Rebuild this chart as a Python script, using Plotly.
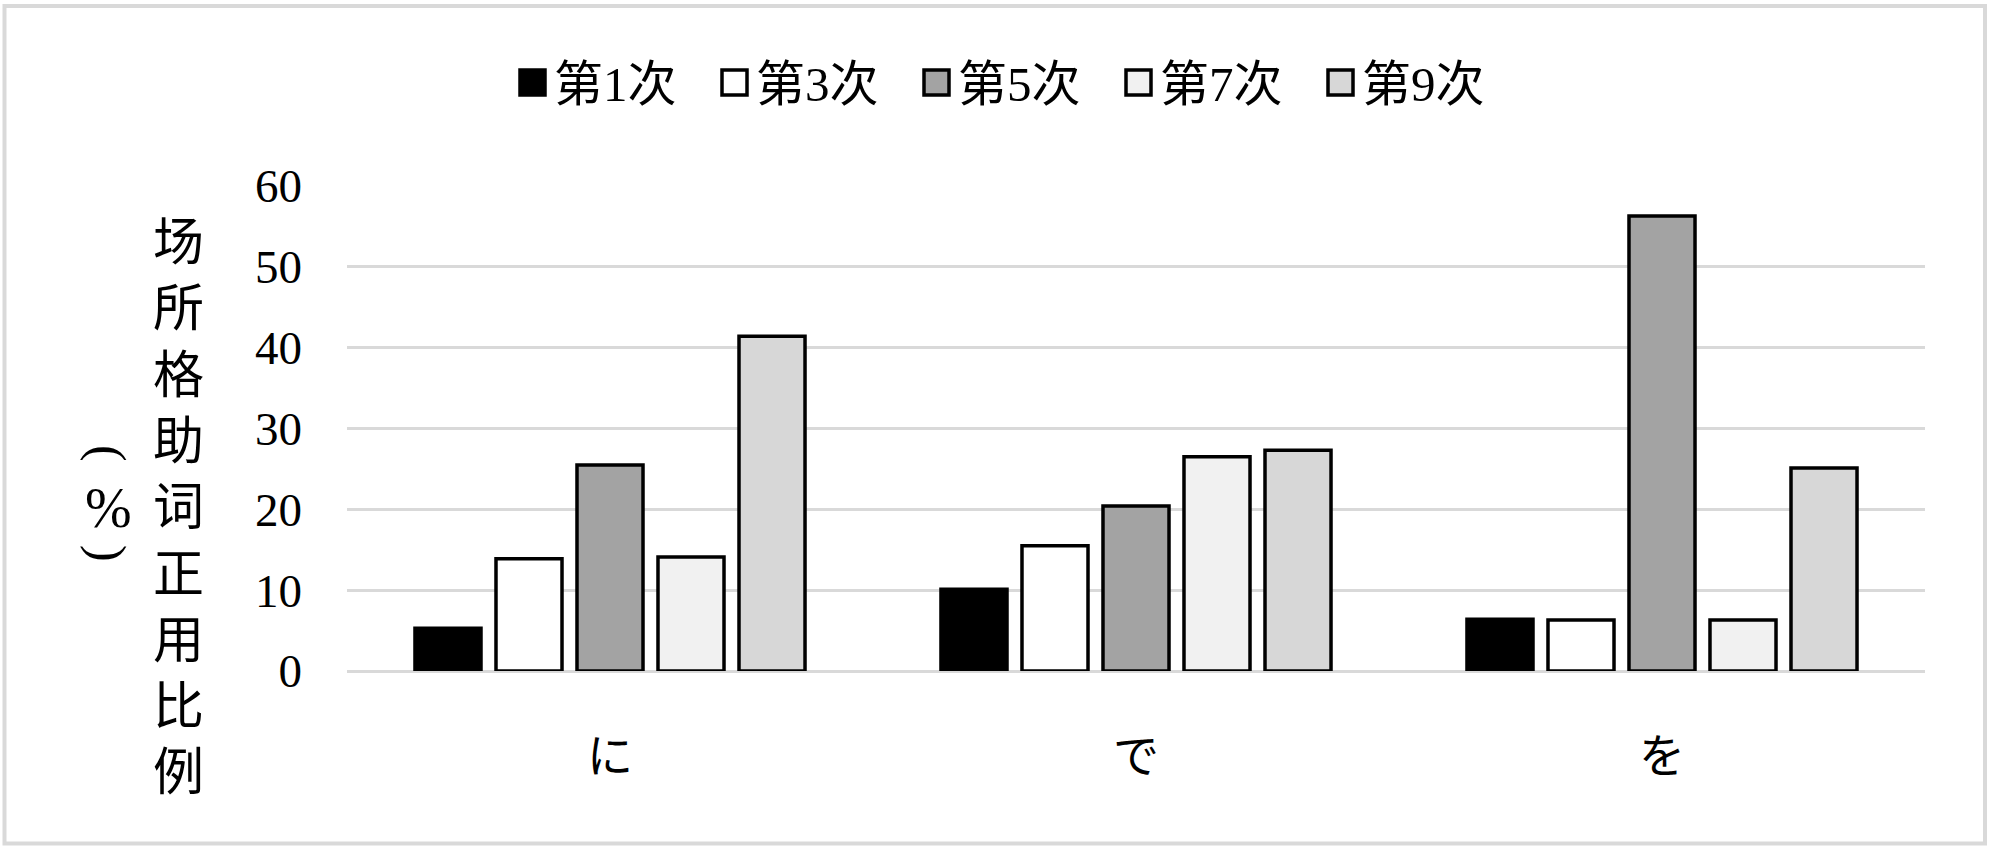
import plotly.graph_objects as go

# data
categories = ['に', 'で', 'を']
series_names = ['第1次', '第3次', '第5次', '第7次', '第9次']
vals_1 = [5.3, 10.1, 6.4]
vals_3 = [13.9, 15.5, 6.3]
vals_5 = [25.5, 20.4, 56.3]
vals_7 = [14.1, 26.5, 6.3]
vals_9 = [41.4, 27.3, 25.1]
y_ticks = [0, 10, 20, 30, 40, 50, 60]

series_vals = [vals_1, vals_3, vals_5, vals_7, vals_9]
fills = ['#000000', '#ffffff', '#a3a3a3', '#f1f1f1', '#d7d7d7']

W, H = 2000, 856
L, R, T, B = 347, 75, 186, 185
pw, ph = W - L - R, H - T - B

def px_x(x):
    return (x - L) / pw

def px_y(y):
    return (H - B - y) / ph

serif = 'Liberation Serif, Noto Sans CJK SC'
black = '#000000'

fig = go.Figure()
for name, vals, col in zip(series_names, series_vals, fills):
    fig.add_trace(go.Bar(
        x=categories, y=vals, name=name,
        marker=dict(color=col, line=dict(color=black, width=3.5)),
        showlegend=False))

# legend drawn by hand so the swatches can be big like the original
for i, (name, col) in enumerate(zip(series_names, fills)):
    x0 = 518 + i * 202
    fig.add_shape(type='rect', xref='paper', yref='paper',
                  x0=px_x(x0 + 2), x1=px_x(x0 + 27),
                  y0=px_y(95), y1=px_y(70),
                  fillcolor=col, line=dict(color=black, width=3.5))
    fig.add_annotation(x=px_x(x0 + 34), y=px_y(84), xref='paper', yref='paper',
                       text=name, showarrow=False, xanchor='left', yanchor='middle',
                       font=dict(family=serif, size=49, color=black))

# y axis title, stacked vertically: text column + (%) column
fig.add_annotation(x=px_x(178), y=px_y(508), xref='paper', yref='paper',
                   text='<br>'.join('场所格助词正用比例'), showarrow=False,
                   xanchor='center', yanchor='middle',
                   font=dict(family=serif, size=51, color=black))
for txt, yy, ang, sz in [('(', 453, 90, 50), ('%', 508, 0, 56), (')', 553, 90, 50)]:
    fig.add_annotation(x=px_x(108), y=px_y(yy), xref='paper', yref='paper',
                       text=txt, showarrow=False, textangle=ang,
                       xanchor='center', yanchor='middle',
                       font=dict(family='Liberation Serif', size=sz, color=black))

# outer frame
fig.add_shape(type='rect', xref='paper', yref='paper',
              x0=px_x(4.5), x1=px_x(1985), y0=px_y(843.5), y1=px_y(6),
              line=dict(color='#d9d9d9', width=4), layer='below')

fig.update_layout(
    width=W, height=H,
    margin=dict(l=L, r=R, t=T, b=B, pad=0),
    paper_bgcolor='#ffffff', plot_bgcolor='#ffffff',
    barmode='group', bargap=0.23, bargroupgap=0.185,
    font=dict(family=serif, color=black),
    xaxis=dict(showgrid=False, showline=False, zeroline=False,
               tickfont=dict(family='Liberation Serif, Noto Sans CJK JP', size=46),
               ticklabelstandoff=54),
    yaxis=dict(range=[0, 60], tickvals=y_ticks, showgrid=True,
               gridcolor='#d9d9d9', gridwidth=2.5, zeroline=True,
               zerolinecolor='#d9d9d9', zerolinewidth=2.5, showline=False,
               tickfont=dict(family='Liberation Serif', size=47),
               ticklabelstandoff=44),
)

# drop the default body margin so the figure sits at the page corner
fig.write_html('out.html', config={'displayModeBar': False},
               post_script="document.body.style.margin='0px';")
